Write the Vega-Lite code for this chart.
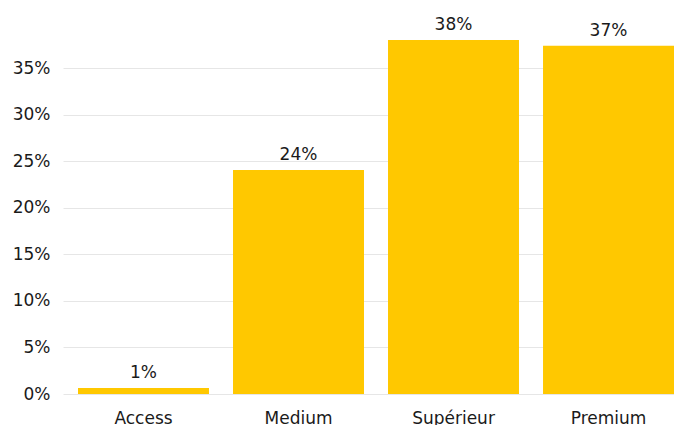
{
  "$schema": "https://vega.github.io/schema/vega-lite/v6.json",
  "autosize": {"type": "none"},
  "padding": {"left": 63, "top": 10, "right": 0, "bottom": 31},
  "width": 611,
  "height": 384,
  "background": "white",
  "config": {
    "view": {"stroke": null},
    "font": "DejaVu Sans"
  },
  "data": {
    "values": [
      {"segment": "Access", "share": 0.0064},
      {"segment": "Medium", "share": 0.2405},
      {"segment": "Supérieur", "share": 0.38},
      {"segment": "Premium", "share": 0.374}
    ]
  },
  "encoding": {
    "x": {
      "field": "segment",
      "type": "nominal",
      "sort": null,
      "scale": {"paddingInner": 0.155, "paddingOuter": 0.0484, "align": 1},
      "axis": {
        "title": null,
        "labelAngle": 0,
        "domain": false,
        "ticks": false,
        "labelFontSize": 17,
        "labelColor": "#1a1a1a",
        "labelPadding": 16,
        "labelFont": "DejaVu Sans"
      }
    },
    "y": {
      "field": "share",
      "type": "quantitative",
      "scale": {"domain": [0, 0.4123], "nice": false},
      "axis": {
        "title": null,
        "format": ".0%",
        "values": [0, 0.05, 0.1, 0.15, 0.2, 0.25, 0.3, 0.35],
        "domain": false,
        "ticks": false,
        "labelFontSize": 17,
        "labelColor": "#1a1a1a",
        "labelPadding": 13,
        "gridColor": "#e6e6e6",
        "gridWidth": 1
      }
    }
  },
  "layer": [
    {"mark": {"type": "bar", "color": "#FFC800"}},
    {
      "mark": {"type": "text", "baseline": "bottom", "dy": -6, "fontSize": 17, "color": "#1a1a1a"},
      "encoding": {"text": {"field": "share", "type": "quantitative", "format": ".0%"}}
    }
  ]
}
